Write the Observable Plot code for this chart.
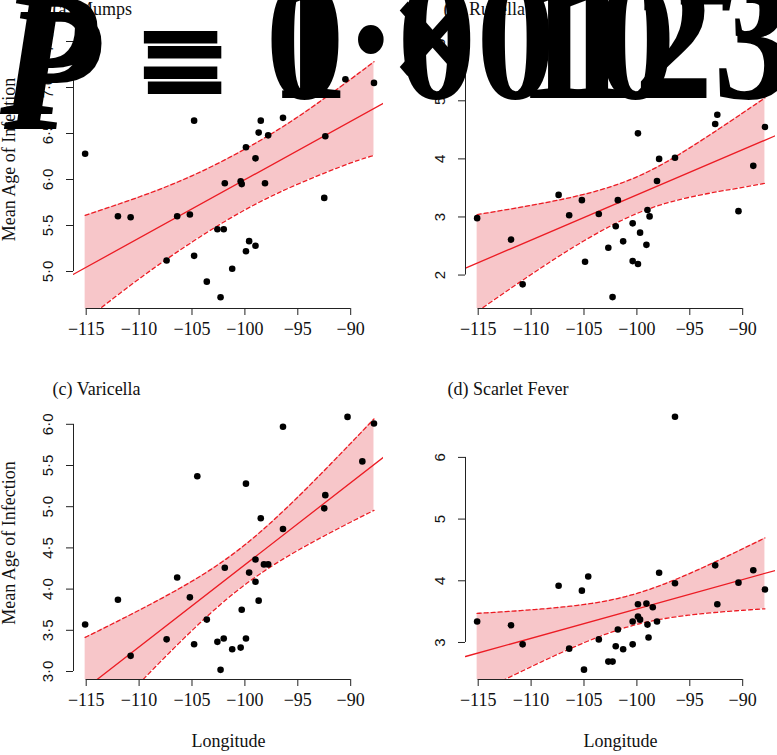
<!DOCTYPE html>
<html><head><meta charset="utf-8">
<script src="https://cdn.jsdelivr.net/npm/d3@7"></script>
<script src="https://cdn.jsdelivr.net/npm/@observablehq/plot@0.6"></script>
<style>
body{margin:0;background:#fff;}
#wrap{position:relative;width:777px;height:755px;overflow:hidden;background:#fff;}
.panel{position:absolute;}
.big{position:absolute;font-family:"Liberation Serif","Times New Roman",serif;font-weight:bold;font-size:158px;line-height:1;white-space:nowrap;color:#000;z-index:5;transform:scaleY(1.12);transform-origin:0 0;}
</style></head><body>
<div id="wrap"></div>
<script>
// ---------- data ----------
const panelTitles = ["(a) Mumps", "(b) Rubella", "(c) Varicella", "(d) Scarlet Fever"];
const xAxisLabel = "Longitude";
const yAxisLabel = "Mean Age of Infection";
const bigTextA = ["P", " =", " 0·00123"];
const bigTextB = ["P", " =", " 1 × 10", "−3"];

const mumpsLon = [-115.1, -112.0, -110.8, -107.4, -106.4, -105.2, -104.8, -104.8, -103.6, -102.6, -102.3, -102.0, -101.9, -101.2, -100.4, -100.3, -99.9, -99.9, -99.6, -99.0, -99.0, -98.7, -98.5, -98.1, -97.8, -96.4, -92.5, -92.4, -90.5, -87.8];
const mumpsAge = [6.28, 5.60, 5.59, 5.12, 5.60, 5.62, 6.64, 5.17, 4.89, 5.46, 4.72, 5.46, 5.96, 5.03, 5.98, 5.95, 6.35, 5.22, 5.33, 5.28, 6.23, 6.51, 6.64, 5.96, 6.48, 6.67, 5.80, 6.47, 7.09, 7.05];

const rubellaLon = [-115.1, -111.9, -110.8, -107.4, -106.4, -105.2, -104.9, -103.6, -102.7, -102.3, -102.0, -101.8, -101.3, -100.4, -100.4, -99.9, -99.9, -99.7, -99.1, -99.0, -98.8, -98.1, -97.9, -96.4, -92.6, -92.4, -90.4, -89.0, -87.9];
const rubellaAge = [2.98, 2.61, 1.84, 3.38, 3.03, 3.29, 2.23, 3.05, 2.47, 1.62, 2.84, 3.29, 2.58, 2.24, 2.89, 4.44, 2.19, 2.73, 2.52, 3.12, 3.01, 3.62, 4.00, 4.02, 4.60, 4.76, 3.10, 3.88, 4.55];

const varicellaLon = [-115.1, -112.0, -110.8, -107.4, -106.4, -105.2, -104.5, -104.8, -103.6, -102.6, -102.3, -102.0, -101.9, -101.2, -100.4, -100.3, -99.9, -99.9, -99.6, -99.0, -99.0, -98.7, -98.5, -98.2, -97.8, -96.4, -96.4, -92.5, -92.4, -90.3, -88.9, -87.8];
const varicellaAge = [3.57, 3.87, 3.19, 3.39, 4.14, 3.90, 5.37, 3.33, 3.63, 3.36, 3.02, 3.40, 4.26, 3.27, 3.29, 3.75, 5.28, 3.40, 4.20, 4.36, 4.09, 3.86, 4.86, 4.30, 4.30, 5.97, 4.73, 4.98, 5.14, 6.09, 5.55, 6.01];

const scarletLon = [-115.1, -111.9, -110.8, -107.4, -106.4, -105.2, -105.0, -104.6, -103.6, -102.7, -102.3, -102.0, -101.8, -101.3, -100.4, -100.4, -99.9, -99.9, -99.7, -99.1, -99.0, -98.9, -98.5, -98.1, -97.9, -96.4, -96.4, -92.6, -92.4, -90.4, -89.0, -87.9];
const scarletAge = [3.34, 3.28, 2.97, 3.92, 2.90, 3.84, 2.56, 4.07, 3.05, 2.69, 2.69, 2.94, 3.21, 2.89, 2.97, 3.34, 3.62, 3.42, 3.37, 3.63, 3.29, 3.08, 3.57, 3.34, 4.13, 6.66, 3.96, 4.25, 3.62, 3.97, 4.17, 3.86];

// fitted line and 95% band of panels (a) and (b)
// (their fits include points hidden behind the large overlaid text)
const mumpsFitEnds = [4.97, 6.83];
const mumpsBandLon = [-115.1, -110, -105, -100, -95, -90, -87.8];
const mumpsBandLow = [4.47, 4.92, 5.32, 5.67, 5.95, 6.18, 6.26];
const mumpsBandHigh = [5.61, 5.81, 6.04, 6.33, 6.68, 7.09, 7.28];
const rubellaFitEnds = [2.12, 4.40];
const rubellaBandLon = [-115.1, -110, -105, -100, -95, -90, -87.9];
const rubellaBandLow = [1.37, 2.01, 2.59, 3.06, 3.34, 3.51, 3.58];
const rubellaBandHigh = [3.04, 3.20, 3.39, 3.69, 4.19, 4.79, 5.05];

const xTicks = [-115, -110, -105, -100, -95, -90];
const xLimits = [-116.2, -86.9];
const mumpsTicks = [5.0, 5.5, 6.0, 6.5, 7.0, 7.5];
const rubellaTicks = [2, 3, 4, 5, 6];
const varicellaTicks = [3.0, 3.5, 4.0, 4.5, 5.0, 5.5, 6.0];
const scarletTicks = [3, 4, 5, 6];
const mumpsLimits = [4.598, 7.837];
const rubellaLimits = [1.424, 6.555];
const varicellaLimits = [2.903, 6.216];
const scarletLimits = [2.40, 6.825];

// ---------- helpers ----------
const midDot1 = d => d.toFixed(1).replace(".", "·");
const intFmt = d => String(d);
const lonFmt = d3.format("d");

function tQuant975(df) {
  const z = 1.959964;
  return z + (z ** 3 + z) / (4 * df) + (5 * z ** 5 + 16 * z ** 3 + 3 * z) / (96 * df * df)
    + (3 * z ** 7 + 19 * z ** 5 + 17 * z ** 3 - 15 * z) / (384 * df ** 3);
}
// least-squares fit with 95% confidence band, from a panel's points
function fitBand(lon, age) {
  const n = lon.length, mx = d3.mean(lon), my = d3.mean(age);
  const sxx = d3.sum(lon, x => (x - mx) ** 2);
  const sxy = d3.sum(lon.map((x, i) => (x - mx) * (age[i] - my)));
  const b = sxy / sxx, a = my - b * mx;
  const s = Math.sqrt(d3.sum(lon.map((x, i) => (age[i] - a - b * x) ** 2)) / (n - 2));
  const t = tQuant975(n - 2);
  const [lo, hi] = d3.extent(lon);
  const band = d3.range(121).map(i => {
    const x = lo + (hi - lo) * i / 120;
    const yhat = a + b * x;
    const h = t * s * Math.sqrt(1 / n + (x - mx) ** 2 / sxx);
    return {x, lo: yhat - h, hi: yhat + h};
  });
  const line = xLimits.map(x => ({x, y: a + b * x}));
  return {band, line, curve: "linear"};
}
function readBand(bLon, bLow, bHigh, ends) {
  return {
    band: bLon.map((x, i) => ({x, lo: bLow[i], hi: bHigh[i]})),
    line: xLimits.map((x, i) => ({x, y: ends[i]})),
    curve: "natural"
  };
}

// ---------- layout ----------
const RED = "#ec1c24";
const PINK = "#f7c6c9";
const AX = "#222";
const SERIF = "Liberation Serif, Times New Roman, serif";
const SANS = "Liberation Sans, Arial, sans-serif";

const panels = [
  {title: panelTitles[0], lon: mumpsLon, age: mumpsAge, ticks: mumpsTicks, lim: mumpsLimits, fmt: midDot1,
   fit: readBand(mumpsBandLon, mumpsBandLow, mumpsBandHigh, mumpsFitEnds),
   left: 0, top: 0, h: 371, mt: 10, mb: 63, ml: 73, mr: 5, tdx: -21, tdy: 4, ylab: true, xlab: false},
  {title: panelTitles[1], lon: rubellaLon, age: rubellaAge, ticks: rubellaTicks, lim: rubellaLimits, fmt: intFmt,
   fit: readBand(rubellaBandLon, rubellaBandLow, rubellaBandHigh, rubellaFitEnds),
   left: 389, top: 0, h: 371, mt: 10, mb: 63, ml: 76, mr: 2, tdx: -22, tdy: 4, ylab: false, xlab: false},
  {title: panelTitles[2], lon: varicellaLon, age: varicellaAge, ticks: varicellaTicks, lim: varicellaLimits, fmt: midDot1,
   fit: fitBand(varicellaLon, varicellaAge),
   left: 0, top: 371, h: 384, mt: 35, mb: 76, ml: 73, mr: 5, tdx: -21, tdy: -12, ylab: true, xlab: true},
  {title: panelTitles[3], lon: scarletLon, age: scarletAge, ticks: scarletTicks, lim: scarletLimits, fmt: intFmt,
   fit: fitBand(scarletLon, scarletAge),
   left: 389, top: 371, h: 384, mt: 35, mb: 76, ml: 76, mr: 2, tdx: -18, tdy: -12, ylab: false, xlab: true}
];

const wrap = document.getElementById("wrap");

for (const p of panels) {
  const f = p.fit;
  const pts = p.lon.map((x, i) => ({x, y: p.age[i]}));
  const marks = [
    Plot.areaY(f.band, {x: "x", y1: "lo", y2: "hi", fill: PINK, curve: f.curve, clip: true}),
    Plot.lineY(f.band, {x: "x", y: "lo", stroke: RED, strokeWidth: 1.3, strokeDasharray: "4,3", curve: f.curve, clip: true}),
    Plot.lineY(f.band, {x: "x", y: "hi", stroke: RED, strokeWidth: 1.3, strokeDasharray: "4,3", curve: f.curve, clip: true}),
    Plot.line(f.line, {x: "x", y: "y", stroke: RED, strokeWidth: 1.3, clip: true}),
    Plot.dot(pts, {x: "x", y: "y", r: 3.3, fill: "#000", stroke: "none"}),
    Plot.ruleY([p.lim[0]], {x1: xTicks[0], x2: xTicks[xTicks.length - 1], stroke: AX, strokeWidth: 1}),
    Plot.ruleX([xLimits[0]], {y1: p.ticks[0], y2: p.ticks[p.ticks.length - 1], stroke: AX, strokeWidth: 1}),
    Plot.axisX({ticks: xTicks, tickSize: 7, tickPadding: 7, tickFormat: lonFmt, fontSize: 18, fontFamily: SERIF, fill: "#111", stroke: AX, label: null}),
    Plot.axisY({ticks: p.ticks, tickSize: 7, tickPadding: 14, tickRotate: -90, tickFormat: p.fmt, fontSize: 15, fontFamily: SANS, fill: "#111", stroke: AX, label: null}),
    Plot.text([p.title], {text: d => d, frameAnchor: "top-left", dx: p.tdx, dy: p.tdy, textAnchor: "start", lineAnchor: "bottom", fontSize: 18, fontFamily: SERIF, fill: "#111"})
  ];
  if (p.ylab) marks.push(Plot.text([yAxisLabel], {text: d => d, frameAnchor: "left", dx: -59, rotate: -90, textAnchor: "middle", lineAnchor: "bottom", fontSize: 18, fontFamily: SERIF, fill: "#111"}));
  if (p.xlab) marks.push(Plot.text([xAxisLabel], {text: d => d, frameAnchor: "bottom", dy: 67, textAnchor: "middle", lineAnchor: "bottom", fontSize: 18, fontFamily: SERIF, fill: "#111"}));

  const chart = Plot.plot({
    width: 388, height: p.h,
    marginTop: p.mt, marginBottom: p.mb, marginLeft: p.ml, marginRight: p.mr,
    x: {domain: xLimits},
    y: {domain: p.lim},
    style: {background: "transparent", overflow: "visible"},
    marks
  });
  chart.classList.add("panel");
  chart.style.left = p.left + "px";
  chart.style.top = p.top + "px";
  wrap.appendChild(chart);
}

// large overlaid text (as in the reference)
const a = document.createElement("div");
a.className = "big";
a.style.left = "0px"; a.style.top = "-50px";
a.innerHTML = `<span style="position:relative;top:14px"><i>${bigTextA[0]}</i>${bigTextA[1]}</span>${bigTextA[2]}`;
wrap.appendChild(a);
const b = document.createElement("div");
b.className = "big";
b.style.left = "4px"; b.style.top = "-50px";
b.innerHTML = `<span style="position:relative;top:28px"><i>${bigTextB[0]}</i>${bigTextB[1]}</span>${bigTextB[2]}<span style="font-size:0.62em;position:relative;top:-0.55em">${bigTextB[3]}</span>`;
wrap.appendChild(b);
</script>
</body></html>
